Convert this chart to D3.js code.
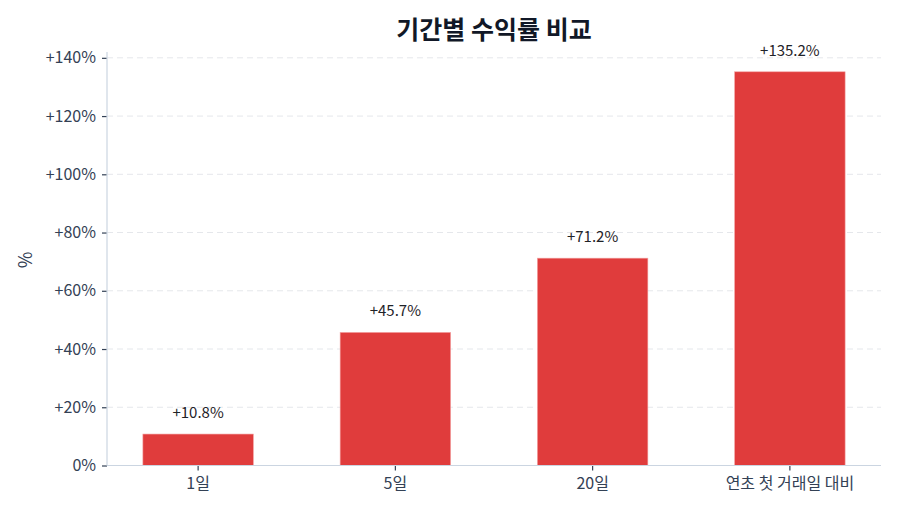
<!DOCTYPE html>
<html>
<head>
<meta charset="utf-8">
<script src="https://cdn.jsdelivr.net/npm/d3@7"></script>
<style>
  body { margin: 0; background: #fff; }
  text { font-family: "Noto Sans CJK KR", "Noto Sans", sans-serif; }
</style>
</head>
<body>
<svg id="chart" width="900" height="514"></svg>
<script>
var periods = ["1일", "5일", "20일", "연초 첫 거래일 대비"];
var returns = [10.8, 45.7, 71.2, 135.2];
var yTicks = [0, 20, 40, 60, 80, 100, 120, 140];

(function () {
  var svg = d3.select("#chart");
  var plotLeft = 107, plotRight = 881, plotTop = 52, plotBottom = 465.5;

  var x = d3.scaleBand()
    .domain(periods)
    .range([99.5, 888.5])
    .paddingInner(0.44)
    .paddingOuter(0.22);

  var y = d3.scaleLinear()
    .domain([0, 142])
    .range([plotBottom, plotTop]);

  // grid
  svg.append("g").selectAll("line")
    .data(yTicks.filter(function(d) { return d > 0; }))
    .enter().append("line")
    .attr("x1", plotLeft).attr("x2", plotRight)
    .attr("y1", function(d) { return y(d); })
    .attr("y2", function(d) { return y(d); })
    .attr("stroke", "#e5e7eb")
    .attr("stroke-width", 1)
    .attr("stroke-dasharray", "6,4");

  // bars
  svg.append("g").selectAll("rect")
    .data(periods)
    .enter().append("rect")
    .attr("x", function(d) { return x(d); })
    .attr("width", x.bandwidth())
    .attr("y", function(d, i) { return y(returns[i]); })
    .attr("height", function(d, i) { return plotBottom - y(returns[i]); })
    .attr("fill", "#e03c3c")
    .attr("stroke", "#f3a0a0")
    .attr("stroke-width", 0.6);

  // value labels
  svg.append("g").selectAll("text")
    .data(periods)
    .enter().append("text")
    .attr("x", function(d) { return x(d) + x.bandwidth() / 2; })
    .attr("y", function(d, i) { return y(returns[i]) - 16; })
    .attr("text-anchor", "middle")
    .attr("font-size", 15)
    .attr("fill", "#1f2328")
    .text(function(d, i) { return "+" + returns[i].toFixed(1) + "%"; });

  // y axis
  var yAxis = svg.append("g")
    .attr("transform", "translate(" + plotLeft + ",0)")
    .call(d3.axisLeft(y).tickValues(yTicks).tickSize(5).tickPadding(6)
      .tickFormat(function(d) { return d === 0 ? "0%" : "+" + d + "%"; }));
  yAxis.select(".domain").remove();
  yAxis.selectAll(".tick line").attr("stroke", "#334155").attr("stroke-width", 1.2);
  yAxis.selectAll(".tick text").attr("font-size", 16).attr("fill", "#334155")
    .style("font-family", "'Noto Sans CJK KR', 'Noto Sans', sans-serif");
  svg.append("line")
    .attr("x1", plotLeft).attr("x2", plotLeft)
    .attr("y1", plotTop).attr("y2", plotBottom)
    .attr("stroke", "#cbd5e1").attr("stroke-width", 1.2);

  // x axis
  var xAxis = svg.append("g")
    .attr("transform", "translate(0," + plotBottom + ")")
    .call(d3.axisBottom(x).tickSize(5).tickPadding(7));
  xAxis.select(".domain").remove();
  xAxis.selectAll(".tick line").attr("stroke", "#334155").attr("stroke-width", 1.2);
  xAxis.selectAll(".tick text").attr("font-size", 16).attr("fill", "#334155")
    .style("font-family", "'Noto Sans CJK KR', 'Noto Sans', sans-serif");
  svg.append("line")
    .attr("x1", plotLeft).attr("x2", plotRight)
    .attr("y1", plotBottom).attr("y2", plotBottom)
    .attr("stroke", "#cbd5e1").attr("stroke-width", 1.2);

  // y label
  svg.append("text")
    .attr("transform", "translate(32,260) rotate(-90)")
    .attr("text-anchor", "middle")
    .attr("font-size", 18)
    .attr("fill", "#334155")
    .text("%");

  // title
  svg.append("text")
    .attr("x", (plotLeft + plotRight) / 2)
    .attr("y", 39)
    .attr("text-anchor", "middle")
    .attr("font-size", 25)
    .attr("font-weight", "bold")
    .attr("fill", "#111827")
    .text("기간별 수익률 비교");
})();
</script>
</body>
</html>
